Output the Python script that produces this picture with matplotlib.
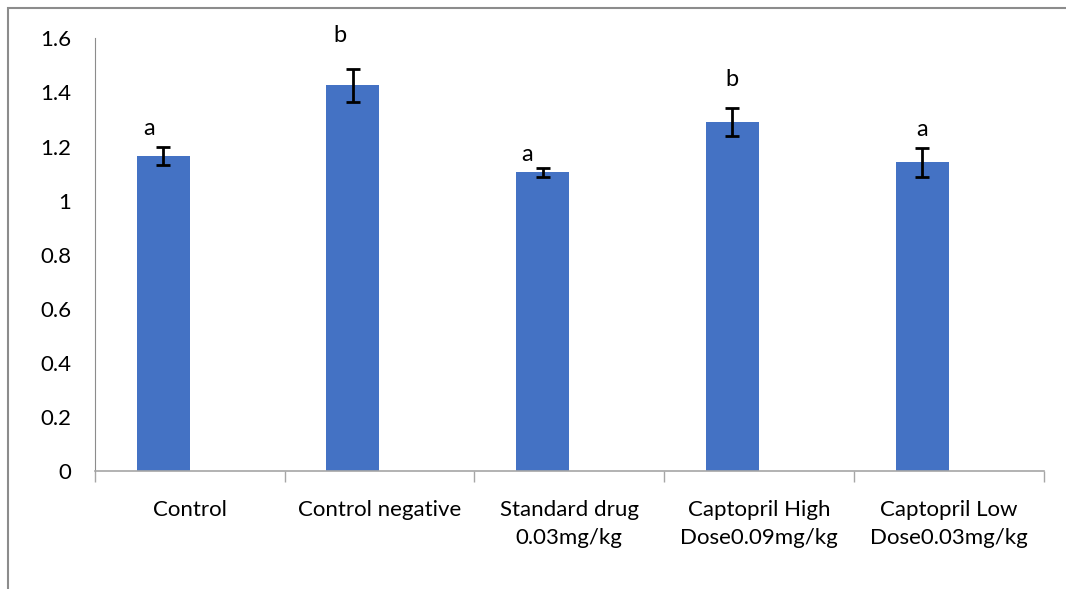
import matplotlib
matplotlib.use("Agg")
import matplotlib.pyplot as plt
from matplotlib.patches import Rectangle

# datos
grupos = ["Control", "Control negative", "Standard drug\n0.03mg/kg",
          "Captopril High\nDose0.09mg/kg", "Captopril Low\nDose0.03mg/kg"]
valores = [1.165, 1.426, 1.104, 1.291, 1.141]
errores = [0.033, 0.062, 0.017, 0.051, 0.054]
letras = ["a", "b", "a", "b", "a"]
altura_letras = [1.266, 1.611, 1.171, 1.449, 1.264]

# desplazamientos de las letras (solo maquetacion)
desplaz_letras = [-0.075, -0.07, -0.08, 0.0, 0.0]

plt.rcParams['font.family'] = ['Lato', 'DejaVu Sans']

fig = plt.figure(figsize=(10.66, 5.89), dpi=100)
ax = fig.add_axes([0.089, 0.2, 0.89, 0.735])

# marco exterior (solo se ve arriba y a la izquierda)
fig.patches.append(Rectangle((0.0075, -0.1), 1.1, 1.0865, transform=fig.transFigure,
                             fill=False, edgecolor="#8c8c8c", linewidth=1.5))

x = range(len(grupos))
pos_barras = [i - 0.14 for i in x]
ax.bar(pos_barras, valores, width=0.28, color="#4472C4", zorder=2)
ax.errorbar(pos_barras, valores, yerr=errores, fmt="none", ecolor="black",
            elinewidth=2, capsize=5, capthick=2, zorder=3)

for px, h, l, d in zip(pos_barras, altura_letras, letras, desplaz_letras):
    ax.text(px + d, h, l, ha="center", va="center", fontsize=17)

ax.set_xlim(-0.5, len(grupos) - 0.5)
ax.set_ylim(0, 1.6)
ax.set_yticks([0, 0.2, 0.4, 0.6, 0.8, 1, 1.2, 1.4, 1.6])
ax.set_yticklabels(["0", "0.2", "0.4", "0.6", "0.8", "1", "1.2", "1.4", "1.6"])
ax.set_xticks(list(x))
ax.set_xticklabels(grupos, fontsize=16, linespacing=1.45)
ax.set_xticks([i - 0.5 for i in range(len(grupos) + 1)], minor=True)

ax.tick_params(axis="y", length=0, pad=17, labelsize=16)
ax.tick_params(axis="x", which="major", length=0, pad=21)
ax.tick_params(axis="x", which="minor", length=8, color="#a6a6a6", width=1)
for lado in ["top", "right"]:
    ax.spines[lado].set_visible(False)
ax.spines["left"].set_color("#8c8c8c")
ax.spines["bottom"].set_color("#a6a6a6")
ax.spines["bottom"].set_linewidth(1.2)

plt.savefig("out.png", dpi=100)
